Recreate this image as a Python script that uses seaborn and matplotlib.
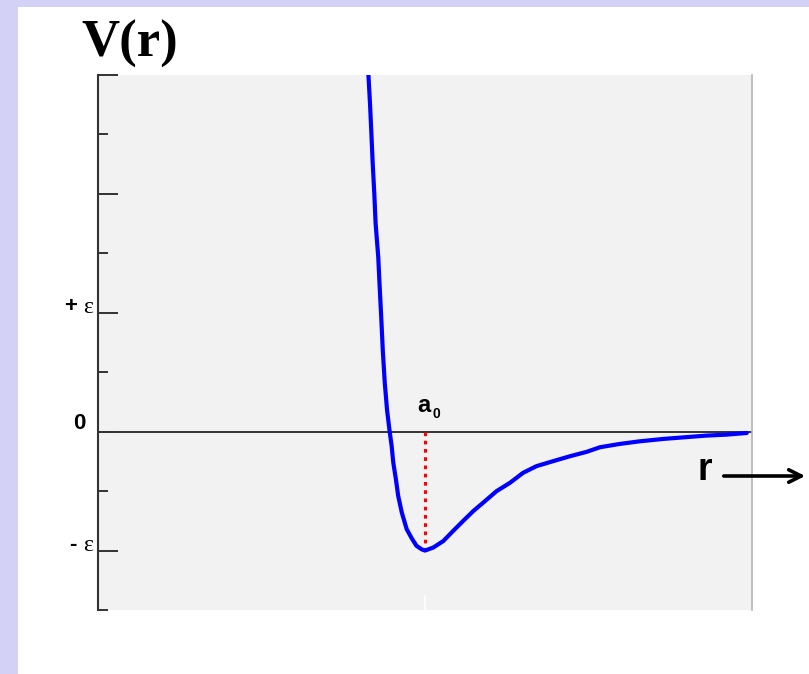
import matplotlib
matplotlib.use("Agg")
import matplotlib.pyplot as plt
import seaborn as sns
import pandas as pd
from matplotlib.patches import Rectangle

# r in units of a0, V in units of epsilon
r_vals = [0.827, 0.832, 0.836, 0.840, 0.845, 0.849, 0.857, 0.861, 0.866,
          0.871, 0.877, 0.884, 0.892, 0.898, 0.903, 0.911, 0.918, 0.929,
          0.944, 0.960, 0.974, 0.990, 1.000, 1.025, 1.056, 1.086, 1.117,
          1.148, 1.178, 1.219, 1.260, 1.300, 1.341, 1.392, 1.443, 1.494,
          1.535, 1.596, 1.657, 1.729, 1.790, 1.861, 1.922, 1.984]
v_vals = [3.00, 2.75, 2.51, 2.26, 2.00, 1.75, 1.47, 1.24, 0.97,
          0.68, 0.41, 0.18, 0.00, -0.12, -0.26, -0.40, -0.54, -0.68,
          -0.82, -0.90, -0.96, -0.99, -1.00, -0.975, -0.92, -0.835, -0.75,
          -0.667, -0.597, -0.50, -0.43, -0.346, -0.29, -0.248, -0.207, -0.17,
          -0.131, -0.103, -0.081, -0.061, -0.048, -0.033, -0.025, -0.011]
tick_major = [-1, 0, 1, 2, 3]
tick_minor = [-1.5, -0.5, 0.5, 1.5, 2.5]
a0 = 1.0

df = pd.DataFrame({'r': r_vals, 'V': v_vals})

sns.set_style("white")
plt.rcParams['font.family'] = ['Liberation Sans', 'DejaVu Sans']
plt.rcParams['text.color'] = 'black'

fig = plt.figure(figsize=(8.09, 6.74), dpi=100)
fig.patch.set_facecolor('#d4d1f7')
# white page inside the lavender border
fig.patches.append(Rectangle((18 / 809, 0), 1, 1 - 7 / 674, transform=fig.transFigure,
                             facecolor='white', edgecolor='none', zorder=-10))

ax = fig.add_axes([98 / 809, 1 - 610 / 674, 654 / 809, 535 / 674])
ax.set_zorder(1)
ax.set_facecolor('#f2f2f2')

# zero line and a0 marker
ax.axhline(0, color='#333333', lw=1.4, zorder=2)
ax.plot([a0, a0], [0, -1], color='red', lw=2.2, ls=(0, (1.2, 1.5)), zorder=2)

sns.lineplot(data=df, x='r', y='V', color='#0000ff', lw=3.0, ax=ax, zorder=3)

ax.set_xlim(0, 2.0)
ax.set_ylim(-1.5, 3.0)
ax.set_xlabel('')
ax.set_ylabel('')

for side in ['top', 'bottom']:
    ax.spines[side].set_visible(False)
ax.spines['left'].set_color('#333333')
ax.spines['left'].set_linewidth(1.5)
ax.spines['right'].set_color('#b5b5b5')
ax.spines['right'].set_linewidth(1.2)

ax.set_yticks(tick_major)
ax.set_yticks(tick_minor, minor=True)
ax.set_yticklabels([])
ax.tick_params(axis='y', which='major', direction='in', length=14.5, width=1.4,
               color='#333333', left=True)
ax.tick_params(axis='y', which='minor', direction='in', length=7.5, width=1.4,
               color='#333333', left=True)
ax.set_xticks([a0])
ax.set_xticklabels([])
ax.tick_params(axis='x', direction='in', length=11, width=1.2, color='white', bottom=True)

# y labels: sign in bold sans, epsilon in serif
trans = ax.get_yaxis_transform()
for val, sign in [(1, '+'), (-1, '-')]:
    ax.annotate('ε', xy=(0, val), xycoords=trans, xytext=(-5, 5), textcoords='offset pixels',
                ha='right', va='center', family='Liberation Serif', fontsize=17)
    ax.annotate(sign, xy=(0, val), xycoords=trans, xytext=(-21, 6), textcoords='offset pixels',
                ha='right', va='center', fontweight='bold', fontsize=16)
ax.annotate('0', xy=(0, 0), xycoords=trans, xytext=(-13, 8), textcoords='offset pixels',
            ha='right', va='center', fontweight='bold', fontsize=16)

# a0 label
ax.annotate('a', xy=(a0, 0), xytext=(-1, 26), textcoords='offset pixels',
            ha='center', va='center', fontweight='bold', fontsize=17,
            family=['Liberation Sans Narrow', 'Liberation Sans'])
ax.annotate('0', xy=(a0, 0), xytext=(11, 18), textcoords='offset pixels',
            ha='center', va='center', fontweight='bold', fontsize=10,
            family=['Liberation Sans Narrow', 'Liberation Sans'])

fig.text(81 / 809, 1 - 44 / 674, 'V(r)', family='Liberation Serif', fontweight='bold',
         fontsize=38, ha='left', va='center')
fig.text(697 / 809, 1 - 470 / 674, 'r', family=['Liberation Sans Narrow', 'Liberation Sans'],
         fontweight='bold', fontsize=27, ha='left', va='center')
ax.annotate('', xy=(808 / 809, 1 - 476 / 674), xytext=(721 / 809, 1 - 476 / 674),
            xycoords='figure fraction', textcoords='figure fraction',
            arrowprops=dict(arrowstyle='->,head_length=0.9,head_width=0.45', lw=2.6, color='black'))

fig.savefig('out.png', dpi=100, facecolor=fig.get_facecolor())
